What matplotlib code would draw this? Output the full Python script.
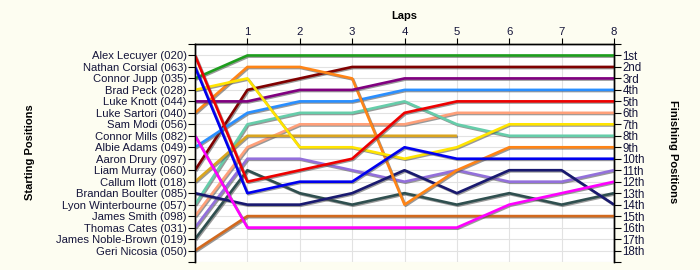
import matplotlib
matplotlib.use("Agg")
import matplotlib.pyplot as plt
import matplotlib.patheffects as pe
import numpy as np

nan = np.nan
laps = [0, 1, 2, 3, 4, 5, 6, 7, 8]
lap_ticks = [1, 2, 3, 4, 5, 6, 7, 8]

starting_names = [
    "Alex Lecuyer (020)", "Nathan Corsial (063)", "Connor Jupp (035)", "Brad Peck (028)",
    "Luke Knott (044)", "Luke Sartori (040)", "Sam Modi (056)", "Connor Mills (082)",
    "Albie Adams (049)", "Aaron Drury (097)", "Liam Murray (060)", "Callum Ilott (018)",
    "Brandan Boulter (085)", "Lyon Winterbourne (057)", "James Smith (098)",
    "Thomas Cates (031)", "James Noble-Brown (019)", "Geri Nicosia (050)",
]
finishing_labels = ["1st", "2nd", "3rd", "4th", "5th", "6th", "7th", "8th", "9th",
                    "10th", "11th", "12th", "13th", "14th", "15th", "16th", "17th", "18th"]

# positions per lap (lap 0 = starting position)
pos_lecuyer = [1, 12, 11, 10, 6, 5, 5, 5, 5]
pos_corsial = [2, 13, 12, 12, 9, 10, 10, 10, 10]
pos_jupp = [3, 1, 1, 1, 1, 1, 1, 1, 1]
pos_peck = [4, 3, 9, 9, 10, 9, 7, 7, 7]
pos_knott = [5, 5, 4, 4, 3, 3, 3, 3, 3]
pos_sartori = [6, 2, 2, 3, 14, 11, 9, 9, 9]
pos_mills = [8, 16, 16, 16, 16, 16, 14, 13, 12]
pos_adams = [9, 6, 5, 5, 4, 4, 4, 4, 4]
pos_murray = [11, 4, 3, 2, 2, 2, 2, 2, 2]
pos_ilott = [12, 8, 8, 8, 8, 8, nan, nan, nan]
pos_boulter = [13, 14, 14, 13, 11, 13, 11, 11, 14]
pos_winterbourne = [14, 7, 6, 6, 5, 7, 8, 8, 8]
pos_smith = [15, 9, 7, 7, 7, 6, 6, 6, 6]
pos_cates = [16, 10, 10, 11, 12, 11, 12, 12, 11]
pos_noble = [17, 11, 13, 14, 13, 14, 13, 14, 13]
pos_nicosia = [18, 15, 15, 15, 15, 15, 15, 15, 15]

series = [
    (pos_nicosia, "#D2691E"),
    (pos_noble, "#2F4F4F"),
    (pos_cates, "#9370DB"),
    (pos_smith, "#FFA07A"),
    (pos_winterbourne, "#66CDAA"),
    (pos_boulter, "#191970"),
    (pos_ilott, "#DAA520"),
    (pos_murray, "#800000"),
    (pos_adams, "#2A8FFF"),
    (pos_mills, "#FF00FF"),
    (pos_sartori, "#FF8416"),
    (pos_knott, "#800080"),
    (pos_peck, "#FFE400"),
    (pos_jupp, "#1E9E1E"),
    (pos_corsial, "#0000EE"),
    (pos_lecuyer, "#EE0000"),
]

bg = "#FDFDF1"
txt = "#14143A"
fig = plt.figure(figsize=(7, 2.7), dpi=100, facecolor=bg)
ax = fig.add_axes([195 / 700, 1 - 262 / 270, (614 - 195) / 700, (262 - 44) / 270])
ax.set_facecolor("white")
ax.set_xlim(0, 8)
ax.set_ylim(19, 0)

for vals, col in series:
    ax.plot(laps, vals, color=col, lw=1.9, solid_capstyle="butt", zorder=3,
            path_effects=[pe.SimpleLineShadow(offset=(0.8, -0.8), shadow_color="#555555", alpha=0.6),
                          pe.Normal()])

ax.xaxis.tick_top()
ax.set_xticks(lap_ticks)
ax.set_xticklabels([str(v) for v in lap_ticks], fontsize=8.2, color=txt, family="Liberation Sans")
ax.tick_params(axis="x", length=4, pad=1, color="black")

yt = list(range(0, 20))
ax.set_yticks(yt)
ax.set_yticklabels([""] + starting_names + [""], fontsize=8.1, color=txt, family="Liberation Sans")
ax.tick_params(axis="y", length=5, pad=1, color="black")
ax.grid(True, color="#E2E2E2", lw=0.8, zorder=0)
ax.set_axisbelow(True)

ax2 = ax.twinx()
ax2.set_ylim(19, 0)
ax2.set_yticks(yt)
ax2.set_yticklabels([""] + finishing_labels + [""], fontsize=8.3, color=txt, family="Liberation Sans")
ax2.tick_params(axis="y", length=5, pad=1, color="black")

for a in (ax, ax2):
    a.spines["bottom"].set_visible(False)
    for s in ("left", "right", "top"):
        a.spines[s].set_color("black")
        a.spines[s].set_linewidth(1.0)

fig.text(404 / 700, 1 - 16 / 270, "Laps", ha="center", va="center", fontsize=8,
         fontweight="bold", family="Liberation Sans", color="black")
fig.text(30 / 700, 1 - 152 / 270, "Starting Positions", ha="center", va="center", rotation=90,
         fontsize=8, fontweight="bold", family="Liberation Sans", color="black")
fig.text(673 / 700, 1 - 152 / 270, "Finishing Positions", ha="center", va="center", rotation=270,
         fontsize=8, fontweight="bold", family="Liberation Sans", color="black")

fig.savefig("out.png", dpi=100, facecolor=bg)
